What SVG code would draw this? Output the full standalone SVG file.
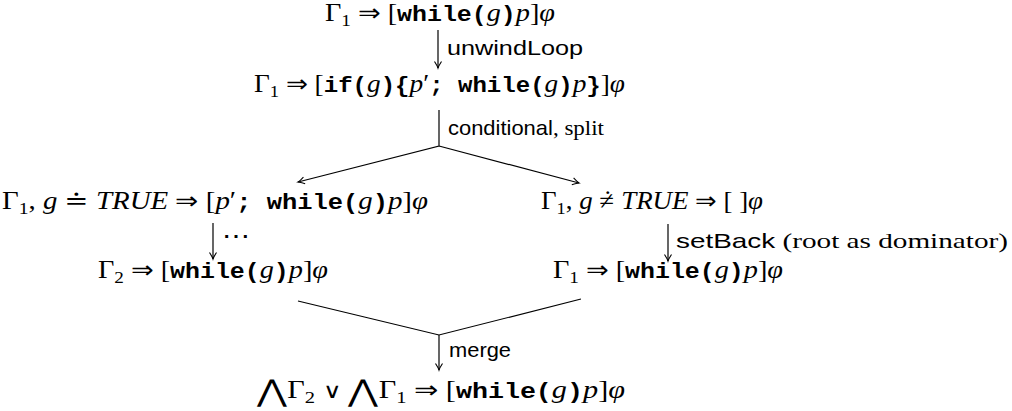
<svg xmlns="http://www.w3.org/2000/svg" width="1012" height="411" viewBox="0 0 1012 411">
<style>
.m{font-family:"Liberation Serif","DejaVu Serif",serif;font-size:25px;fill:#000}
.i{font-style:italic}
.sub{font-size:17px}
.tt{font-family:"Liberation Mono","DejaVu Sans Mono",monospace;font-weight:bold;font-size:22px}
.ar{font-family:"DejaVu Sans",sans-serif;font-size:24px;font-weight:200}
.big{font-family:"DejaVu Sans",sans-serif;font-size:30px;font-weight:200}
.or{font-family:"DejaVu Sans",sans-serif;font-size:21px;font-weight:200}
.s{font-family:"Liberation Sans","DejaVu Sans",sans-serif;font-size:21px;fill:#000}
.r{font-family:"Liberation Serif","DejaVu Serif",serif;font-size:22px}
.c{stroke:#000;stroke-width:1.2;fill:none}
</style>
<defs>
<marker id="ah" viewBox="-8 -5 10 10" refX="0" refY="0" markerWidth="10" markerHeight="10" markerUnits="userSpaceOnUse" orient="auto">
<path d="M-6.5,-3.5 Q-2,-0.6 0,0 Q-2,0.6 -6.5,3.5" fill="none" stroke="#000" stroke-width="1.1"/>
</marker>
</defs>
<g id="n1"><text class="m" x="325" y="21" textLength="230" lengthAdjust="spacingAndGlyphs">Γ<tspan class="sub" dy="5">1</tspan><tspan dy="-5"> </tspan><tspan class="ar">⇒</tspan> [<tspan class="tt">while(</tspan><tspan class="i">g</tspan><tspan class="tt">)</tspan><tspan class="i">p</tspan>]<tspan class="i">φ</tspan></text></g>
<g id="n2"><text class="m" x="254" y="92" textLength="371" lengthAdjust="spacingAndGlyphs">Γ<tspan class="sub" dy="5">1</tspan><tspan dy="-5"> </tspan><tspan class="ar">⇒</tspan> [<tspan class="tt">if(</tspan><tspan class="i">g</tspan><tspan class="tt">){</tspan><tspan class="i">p</tspan>′<tspan class="tt">; while(</tspan><tspan class="i">g</tspan><tspan class="tt">)</tspan><tspan class="i">p</tspan><tspan class="tt">}</tspan>]<tspan class="i">φ</tspan></text></g>
<g id="n3"><text class="m" x="2" y="209" textLength="426" lengthAdjust="spacingAndGlyphs">Γ<tspan class="sub" dy="5">1</tspan><tspan dy="-5">, </tspan><tspan class="i">g</tspan> ≐ <tspan class="i">TRUE</tspan> <tspan class="ar">⇒</tspan> [<tspan class="i">p</tspan>′<tspan class="tt">; while(</tspan><tspan class="i">g</tspan><tspan class="tt">)</tspan><tspan class="i">p</tspan>]<tspan class="i">φ</tspan></text></g>
<g id="n4"><text class="m" x="541" y="209" textLength="222" lengthAdjust="spacingAndGlyphs">Γ<tspan class="sub" dy="5">1</tspan><tspan dy="-5">, </tspan><tspan class="i">g</tspan> ≠<tspan dx="-10" dy="-1">˙</tspan><tspan dx="2" dy="1"> </tspan><tspan class="i">TRUE</tspan> <tspan class="ar">⇒</tspan> [ ]<tspan class="i">φ</tspan></text></g>
<g id="n5"><text class="m" x="98" y="278" textLength="230" lengthAdjust="spacingAndGlyphs">Γ<tspan class="sub" dy="5">2</tspan><tspan dy="-5"> </tspan><tspan class="ar">⇒</tspan> [<tspan class="tt">while(</tspan><tspan class="i">g</tspan><tspan class="tt">)</tspan><tspan class="i">p</tspan>]<tspan class="i">φ</tspan></text></g>
<g id="n6"><text class="m" x="553" y="278" textLength="230" lengthAdjust="spacingAndGlyphs">Γ<tspan class="sub" dy="5">1</tspan><tspan dy="-5"> </tspan><tspan class="ar">⇒</tspan> [<tspan class="tt">while(</tspan><tspan class="i">g</tspan><tspan class="tt">)</tspan><tspan class="i">p</tspan>]<tspan class="i">φ</tspan></text></g>
<g id="n7"><text class="m" x="257" y="398" textLength="368" lengthAdjust="spacingAndGlyphs"><tspan class="big" dy="3">⋀</tspan><tspan dy="-3">Γ</tspan><tspan class="sub" dy="5">2</tspan><tspan dy="-5"> </tspan><tspan class="or">∨</tspan> <tspan class="big" dy="3">⋀</tspan><tspan dy="-3">Γ</tspan><tspan class="sub" dy="5">1</tspan><tspan dy="-5"> </tspan><tspan class="ar">⇒</tspan> [<tspan class="tt">while(</tspan><tspan class="i">g</tspan><tspan class="tt">)</tspan><tspan class="i">p</tspan>]<tspan class="i">φ</tspan></text></g>
<g id="connectors">
<line class="c" x1="438" y1="30" x2="438" y2="68" marker-end="url(#ah)"/>
<path class="c" d="M439,110 V146 L298,182" marker-end="url(#ah)"/>
<path class="c" d="M439,146 L579,183" marker-end="url(#ah)"/>
<line class="c" x1="213" y1="223" x2="213" y2="259" marker-end="url(#ah)"/>
<line class="c" x1="668" y1="224" x2="668" y2="261" marker-end="url(#ah)"/>
<path class="c" d="M298,301 L439,335 L581,299"/>
<line class="c" x1="439" y1="335" x2="439" y2="370" marker-end="url(#ah)"/>
<text class="s" x="447" y="55" textLength="136" lengthAdjust="spacingAndGlyphs">unwindLoop</text>
<text class="s" x="448" y="135" textLength="156" lengthAdjust="spacingAndGlyphs">conditional<tspan class="r">, split</tspan></text>
<text class="m" x="222" y="244" textLength="28" lengthAdjust="spacingAndGlyphs">⋯</text>
<text class="s" x="676" y="248" textLength="332" lengthAdjust="spacingAndGlyphs">setBack<tspan class="r"> (root as dominator)</tspan></text>
<text class="s" x="449" y="357" textLength="62" lengthAdjust="spacingAndGlyphs">merge</text>
</g>
</svg>
